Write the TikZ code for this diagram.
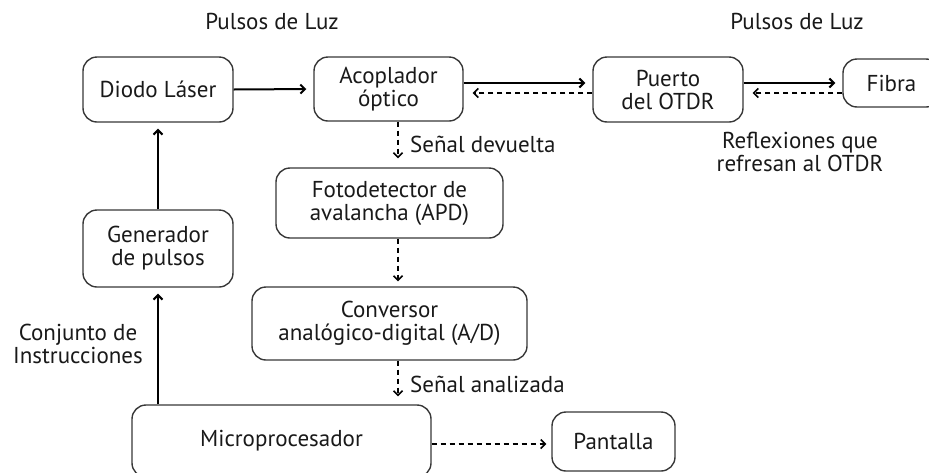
\documentclass[tikz,border=0pt]{standalone}
\usepackage{fontspec}
\setmainfont{PT Sans}
\usetikzlibrary{arrows.meta}

\begin{document}
\begin{tikzpicture}[x=1pt,y=-1pt,
    box/.style={draw=black!78,line width=1.4pt,rounded corners=14pt,align=center,
      inner sep=0pt,text=black!90,font=\fontsize{23}{23}\selectfont},
    txt/.style={align=center,inner sep=0pt,text=black!90,font=\fontsize{23}{23}\selectfont},
    arr/.style={line width=2pt,-{Straight Barb[length=4.5pt,width=9pt]},shorten >=7pt},
    back/.style={arr,line width=1.5pt,dash pattern=on 5pt off 4pt,shorten >=9pt}]
  \useasboundingbox (0,0) rectangle (929,472);
  \node[box,minimum width=150,minimum height=65] (diodo) at (158,89.5) {Diodo Láser};
  \node[box,minimum width=149,minimum height=64] (acopl) at (388.5,89) {Acoplador\\óptico};
  \node[box,minimum width=150,minimum height=65] (puerto) at (668,89.5) {Puerto\\del OTDR};
  \node[box,minimum width=97,minimum height=48] (fibra) at (891.5,83) {Fibra};
  \node[box,minimum width=227,minimum height=70] (fotod) at (389.5,203) {Fotodetector de\\avalancha (APD)};
  \node[box,minimum width=275,minimum height=73] (conv) at (389.5,323.5) {Conversor\\analógico-digital (A/D)};
  \node[box,minimum width=150,minimum height=77] (gen) at (158,248.5) {Generador\\de pulsos};
  \node[box,minimum width=299,minimum height=72] (micro) at (281.5,441) {Microprocesador};
  \node[box,minimum width=123,minimum height=59] (pant) at (613.5,441.5) {Pantalla};
  \node[txt] (luz1) at (272,21) {Pulsos de Luz};
  \node[txt] (luz2) at (797,21) {Pulsos de Luz};
  \node[txt,anchor=west] (devuelta) at (410,144) {Señal devuelta};
  \node[txt,anchor=west] (analizada) at (410,384) {Señal analizada};
  \node[txt] (reflex) at (800,152) {Reflexiones que\\refresan al OTDR};
  \node[txt] (instr) at (78,344) {Conjunto de\\Instrucciones};
  \coordinate (ida) at (0,83);
  \coordinate (vuelta) at (0,93);
  \coordinate (sig) at (398,0);
  \coordinate (salida) at (0,444);
  \draw[arr] (diodo.east) -- (acopl.west);
  \draw[arr] (acopl.east |- ida) -- (puerto.west |- ida);
  \draw[back] (puerto.west |- vuelta) -- (acopl.east |- vuelta);
  \draw[arr] (puerto.east |- ida) -- (fibra.west |- ida);
  \draw[back] (fibra.west |- vuelta) -- (puerto.east |- vuelta);
  \draw[back] (acopl.south -| sig) -- (fotod.north -| sig);
  \draw[back,shorten >=5pt] (fotod.south -| sig) -- (conv.north -| sig);
  \draw[back,shorten >=8pt] (conv.south -| sig) -- (micro.north -| sig);
  \draw[arr,shorten >=6pt] (gen.north) -- (diodo.south);
  \draw[arr,shorten >=6pt] (micro.north -| gen) -- (gen.south);
  \draw[back,shorten >=5pt] (micro.east |- salida) -- (pant.west |- salida);
\end{tikzpicture}
\end{document}
